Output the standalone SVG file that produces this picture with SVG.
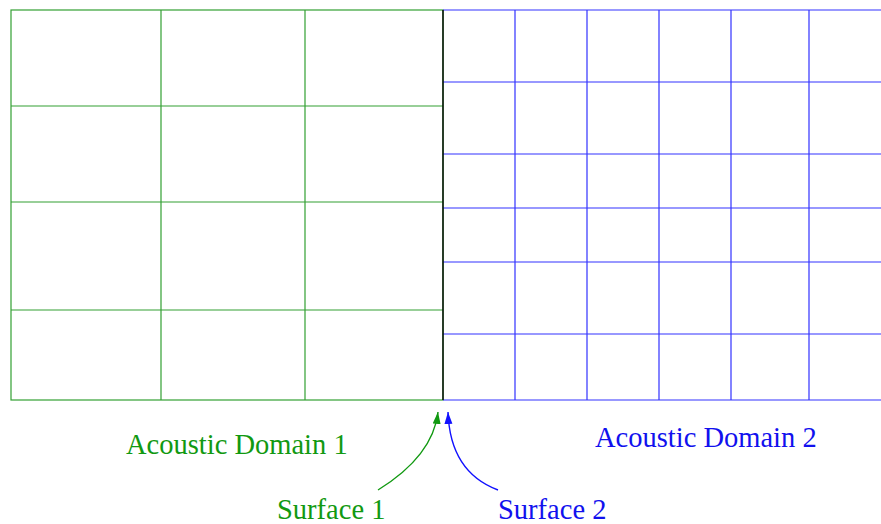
<svg xmlns="http://www.w3.org/2000/svg" width="881" height="524" viewBox="0 0 881 524">
<style>
.g{stroke:#33a033;stroke-width:1.2;fill:none}
.b{stroke:#3333ff;stroke-width:1.2;fill:none}
.t{font-family:"Liberation Serif",serif;font-size:28.5px}
</style>
<defs>
<marker id="ag" markerWidth="13" markerHeight="10" refX="12" refY="4" orient="auto" markerUnits="userSpaceOnUse"><path d="M0,0 L12,4 L0,8 Z" fill="#119911"/></marker>
<marker id="ab" markerWidth="13" markerHeight="10" refX="12" refY="4" orient="auto" markerUnits="userSpaceOnUse"><path d="M0,0 L12,4 L0,8 Z" fill="#1111ff"/></marker>
</defs>
<rect width="881" height="524" fill="#fff"/>
<g id="domain1">
<rect class="g" x="11" y="10" width="432" height="390"/>
<path class="g" d="M161,10V400M305,10V400M11,106H443M11,202H443M11,310H443"/>
</g>
<g id="domain2">
<path class="b" d="M443,10H881M443,400H881M515,10V400M587,10V400M659,10V400M731,10V400M809,10V400M443,82H881M443,154H881M443,208H881M443,262H881M443,334H881"/>
</g>
<g id="interface">
<line x1="443" y1="10" x2="443" y2="400" stroke="#000" stroke-width="1.4"/>
</g>
<g id="connectors">
<path d="M378,490 Q433,456 438,412" stroke="#119911" stroke-width="1.4" fill="none" marker-end="url(#ag)"/>
<path d="M498,490 Q450,472 448,412" stroke="#1111ff" stroke-width="1.4" fill="none" marker-end="url(#ab)"/>
</g>
<g id="labels">
<text class="t" x="126" y="454" fill="#119911">Acoustic Domain 1</text>
<text class="t" x="595" y="447" fill="#1111ee">Acoustic Domain 2</text>
<text class="t" x="277" y="519" fill="#119911">Surface 1</text>
<text class="t" x="498" y="519" fill="#1111ee">Surface 2</text>
</g>
</svg>
